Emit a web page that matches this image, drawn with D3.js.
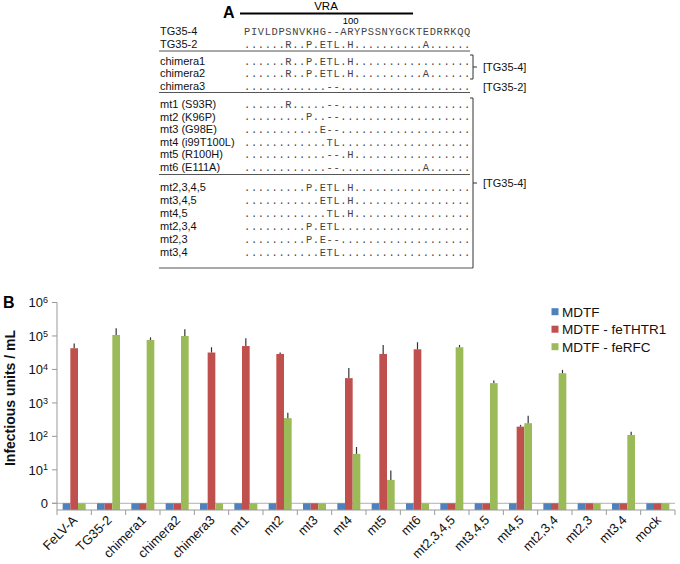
<!DOCTYPE html>
<html><head><meta charset="utf-8">
<script src="https://cdn.jsdelivr.net/npm/d3@7"></script>
<style>body{margin:0;background:#fff} svg{display:block}</style>
</head><body><svg id="c" width="680" height="564"></svg>
<script>
// ---------- Panel A data ----------
const seqNames = ["TG35-4","TG35-2","chimera1","chimera2","chimera3",
  "mt1 (S93R)","mt2 (K96P)","mt3 (G98E)","mt4 (i99T100L)","mt5 (R100H)","mt6 (E111A)",
  "mt2,3,4,5","mt3,4,5","mt4,5","mt2,3,4","mt2,3","mt3,4"];
const seqStrings = [
  "PIVLDPSNVKHG--ARYPSSNYGCKTEDRRKQQ",
  "......R..P.ETL.H..........A......",
  "......R..P.ETL.H.................",
  "......R..P.ETL.H..........A......",
  "............--...................",
  "......R.....--...................",
  ".........P..--...................",
  "...........E--...................",
  "............TL...................",
  "............--.H.................",
  "............--............A......",
  ".........P.ETL.H.................",
  "...........ETL.H.................",
  "............TL.H.................",
  ".........P.ETL...................",
  ".........P.E--...................",
  "...........ETL..................."
];
const seqGroups = [[0,1],[2,3,4],[5,6,7,8,9,10],[11,12,13,14,15,16]];
const bracketLabels = ["[TG35-4]","[TG35-2]","[TG35-4]"];
const regionLabel = "VRA";
const positionLabel = "100";

// ---------- Panel B data ----------
const categories = ["FeLV-A","TG35-2","chimera1","chimera2","chimera3","mt1","mt2","mt3","mt4","mt5","mt6",
  "mt2,3,4,5","mt3,4,5","mt4,5","mt2,3,4","mt2,3","mt3,4","mock"];
const seriesNames = ["MDTF","MDTF - feTHTR1","MDTF - feRFC"];
const mdtfValues  = [0,0,0,0,0,0,0,0,0,0,0,0,0,0,0,0,0,0];
const thtr1Values = [43000,0,0,0,32000,50000,29000,0,5500,29000,40000,0,0,195,0,0,0,0];
const rfcValues   = [0,107000,76000,100000,0,0,350,0,30,5,0,46000,3900,247,7700,0,110,0];
const mdtfErr     = [0,0,0,0,0,0,0,0,0,0,0,0,0,0,0,0,0,0];
const thtr1Err    = [60000,0,0,0,46000,85000,32000,0,11000,54000,65000,0,0,220,0,0,0,0];
const rfcErr      = [0,170000,91000,160000,0,0,510,0,48,9.5,0,54000,4700,410,9700,0,138,0];
const yTickValues = [1,10,100,1000,10000,100000,1000000];
const yTickExps   = ["0","1","2","3","4","5","6"];
const yTitle = "Infectious units / mL";
const colors = ["#4F81BD","#C0504D","#9BBB59"];

const svg = d3.select("#c");
const SANS = "Liberation Sans, Arial, sans-serif";

// ================= Panel A =================
const A = svg.append("g");
A.append("text").attr("x",223).attr("y",18).attr("font-family",SANS).attr("font-weight","bold")
 .attr("font-size",16).text("A");
A.append("line").attr("x1",240).attr("x2",413).attr("y1",13.5).attr("y2",13.5)
 .attr("stroke","#000").attr("stroke-width",1.8);
A.append("text").attr("x",326).attr("y",9.8).attr("text-anchor","middle").attr("font-family",SANS)
 .attr("font-size",11.5).text(regionLabel);

const seqX = 244, charW = 6.88;
const seqScale = d3.scaleLinear().domain([0,33]).range([seqX, seqX+33*charW]);
A.append("text").attr("x",seqScale(15.5)).attr("y",23.5).attr("text-anchor","middle")
 .attr("font-family",SANS).attr("font-size",9.5).text(positionLabel);

const groupStart = [31.5, 61, 104, 187];
const groupStep = [12.5, 12.5, 12.6, 13];
const rowY = [];
seqGroups.forEach((g,gi)=>g.forEach((r,k)=>rowY[r]=groupStart[gi]+k*groupStep[gi]));
const sepY = [51, 92.5, 174.5, 268];

A.selectAll("text.name").data(seqNames).join("text").attr("class","name")
 .attr("x",160).attr("y",(d,i)=>rowY[i]).attr("dy","0.36em")
 .attr("font-family",SANS).attr("font-size",11).attr("fill","#111").text(d=>d);
A.selectAll("text.seq").data(seqStrings).join("text").attr("class","seq")
 .attr("x",seqX).attr("y",(d,i)=>rowY[i]).attr("dy","0.36em")
 .attr("font-family","Liberation Mono, Courier New, monospace").attr("font-size",10.4)
 .attr("letter-spacing",(charW-10.4*0.6)+"px").attr("fill","#444").text(d=>d);
A.selectAll("line.sep").data(sepY).join("line").attr("class","sep")
 .attr("x1",159).attr("x2",(d,i)=>i===3?473:470).attr("y1",d=>d).attr("y2",d=>d)
 .attr("stroke","#555").attr("stroke-width",1.1);
// brackets
const bx = 473;
A.append("path").attr("d",`M${bx-3},55 H${bx} V79 H${bx-3} M${bx},67 H${bx+4}`)
 .attr("fill","none").attr("stroke","#333").attr("stroke-width",1);
A.append("path").attr("d",`M${bx-3},98 H${bx} V268 M${bx},183 H${bx+4}`)
 .attr("fill","none").attr("stroke","#333").attr("stroke-width",1);
const brY = [67, 87, 183];
A.selectAll("text.br").data(bracketLabels).join("text").attr("class","br")
 .attr("x",483).attr("y",(d,i)=>brY[i]).attr("dy","0.36em")
 .attr("font-family",SANS).attr("font-size",11).attr("fill","#111").text(d=>d);

// ================= Panel B =================
const B = svg.append("g");
B.append("text").attr("x",3).attr("y",308).attr("font-family",SANS).attr("font-weight","bold")
 .attr("font-size",16).text("B");

const x = d3.scaleBand().domain(categories).range([57,675]);
const inner = d3.scaleBand().domain([0,1,2]).range([0,23]);
const off = (x.bandwidth()-23)/2;
const y = d3.scaleLog().domain([0.63,1e6]).range([510,302.5]);
const yBase = y.range()[0];

// line at "0" level
B.append("line").attr("x1",52).attr("x2",675).attr("y1",y(1)).attr("y2",y(1))
 .attr("stroke","#b0b0b0").attr("stroke-width",1);

const series = [mdtfValues, thtr1Values, rfcValues];
const errs = [mdtfErr, thtr1Err, rfcErr];
const idx = categories.map((c,i)=>i);
series.forEach((vals,si)=>{
  const cx = i => x(categories[i])+off+inner(si);
  B.selectAll("rect.s"+si).data(idx).join("rect").attr("class","s"+si)
   .attr("x",i=>cx(i)).attr("width",inner.bandwidth())
   .attr("y",i=>y(Math.max(vals[i],1))).attr("height",i=>yBase-y(Math.max(vals[i],1)))
   .attr("fill",colors[si]);
  B.selectAll("line.e"+si).data(idx.filter(i=>errs[si][i]>0)).join("line").attr("class","e"+si)
   .attr("x1",i=>cx(i)+inner.bandwidth()/2).attr("x2",i=>cx(i)+inner.bandwidth()/2)
   .attr("y1",i=>y(Math.max(vals[i],1))).attr("y2",i=>y(errs[si][i]))
   .attr("stroke","#333").attr("stroke-width",1.2);
});

// axes
B.append("line").attr("x1",57).attr("x2",57).attr("y1",302.5).attr("y2",yBase)
 .attr("stroke","#999").attr("stroke-width",1);
B.append("line").attr("x1",57).attr("x2",675).attr("y1",yBase).attr("y2",yBase)
 .attr("stroke","#999").attr("stroke-width",1);
const bounds = categories.map(c=>x(c)).concat([x.range()[1]]);
B.selectAll("line.xt").data(bounds).join("line").attr("class","xt")
 .attr("x1",d=>d).attr("x2",d=>d).attr("y1",yBase).attr("y2",yBase+5)
 .attr("stroke","#999");
B.selectAll("line.yt").data(yTickValues).join("line").attr("class","yt")
 .attr("x1",52).attr("x2",57).attr("y1",d=>y(d)).attr("y2",d=>y(d)).attr("stroke","#999");
const yl = B.selectAll("text.yl").data(yTickValues).join("text").attr("class","yl")
 .attr("x",48).attr("y",d=>y(d)).attr("dy","0.36em").attr("text-anchor","end")
 .attr("font-family",SANS).attr("font-size",13).attr("fill","#111");
yl.each(function(d,i){
  const t = d3.select(this);
  if(d===1){ t.text("0"); return; }
  t.append("tspan").text("10");
  t.append("tspan").attr("font-size",9).attr("dy","-0.45em").text(yTickExps[i]);
});
B.append("text").attr("transform",`translate(15,398) rotate(-90)`)
 .attr("text-anchor","middle").attr("font-family",SANS).attr("font-weight","bold")
 .attr("font-size",14).attr("fill","#111").text(yTitle);

B.selectAll("text.xl").data(categories).join("text").attr("class","xl")
 .attr("transform",d=>`translate(${x(d)+x.bandwidth()/2+4},${yBase+11}) rotate(-45)`)
 .attr("text-anchor","end").attr("font-family",SANS).attr("font-size",13).attr("fill","#111")
 .text(d=>d);

// legend
const lg = B.append("g");
seriesNames.forEach((n,i)=>{
  const ly = 311.7 + i*17.5;
  lg.append("rect").attr("x",551.5).attr("y",ly-3.5).attr("width",7).attr("height",7).attr("fill",colors[i]);
  lg.append("text").attr("x",562).attr("y",ly).attr("dy","0.36em").attr("font-family",SANS)
   .attr("font-size",13.5).attr("fill","#111").text(n);
});
</script></body></html>
